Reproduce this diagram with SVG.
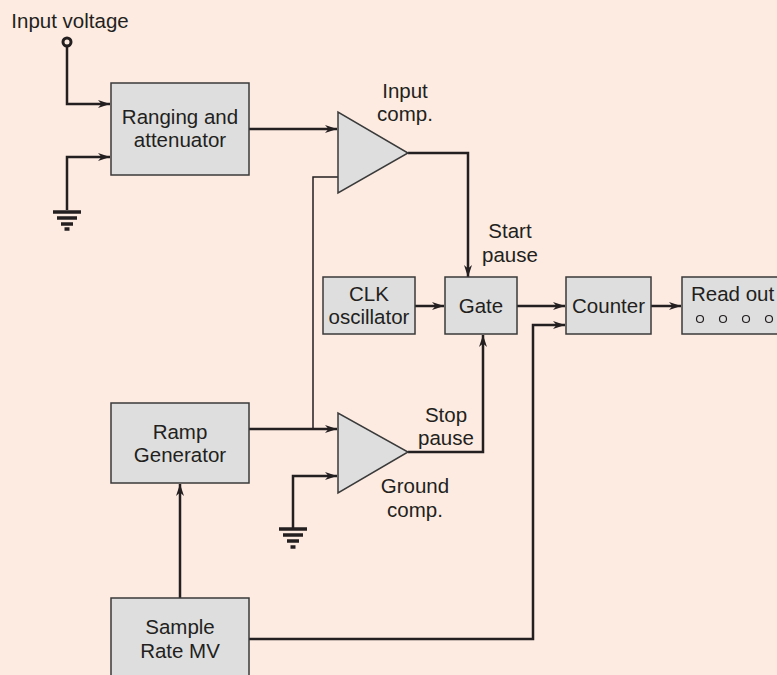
<svg xmlns="http://www.w3.org/2000/svg" width="777" height="675" viewBox="0 0 777 675">
<style>
.box{fill:#dedede;stroke:#3a3a3a;stroke-width:1.5}
.tri{fill:#dedede;stroke:#3a3a3a;stroke-width:1.5}
.t{font-family:"Liberation Sans",Arial,sans-serif;font-size:20.5px;fill:#231f20;text-anchor:middle}
.w{fill:none;stroke:#231f20;stroke-width:2.5}
.thin{fill:none;stroke:#231f20;stroke-width:1.5}
.gnd{stroke:#231f20;stroke-width:3.5}
</style>
<defs>
<marker id="arr" markerWidth="13" markerHeight="9" refX="12" refY="4.5" orient="auto" markerUnits="userSpaceOnUse">
<path d="M0,0.5 L12,4.5 L0,8.5 L3.5,4.5 z" fill="#231f20"/>
</marker>
</defs>
<rect width="777" height="675" fill="#fdebe1"/>

<g id="connectors">
<circle cx="67" cy="42" r="4" fill="none" stroke="#231f20" stroke-width="3"/>
<path class="w" d="M67,46 V104 H110" marker-end="url(#arr)"/>
<path class="w" d="M67,210 V157 H110" marker-end="url(#arr)"/>
<g class="gnd">
<line x1="53" y1="212" x2="81" y2="212"/>
<line x1="57" y1="218" x2="77" y2="218"/>
<line x1="61" y1="224" x2="73" y2="224"/>
<line x1="64.5" y1="229" x2="69.5" y2="229"/>
</g>
<path class="w" d="M249,129 H337" marker-end="url(#arr)"/>
<path class="thin" d="M338,177 H313 V429"/>
<path class="w" d="M408,153 H468 V277" marker-end="url(#arr)"/>
<path class="w" d="M249,429 H337" marker-end="url(#arr)"/>
<path class="w" d="M293,530 V476 H337" marker-end="url(#arr)"/>
<g class="gnd">
<line x1="279" y1="529" x2="307" y2="529"/>
<line x1="283" y1="535" x2="303" y2="535"/>
<line x1="287" y1="541" x2="299" y2="541"/>
<line x1="290.5" y1="547" x2="295.5" y2="547"/>
</g>
<path class="w" d="M408,452 H483 V335" marker-end="url(#arr)"/>
<path class="w" d="M415,306 H444" marker-end="url(#arr)"/>
<path class="w" d="M517,306 H565" marker-end="url(#arr)"/>
<path class="w" d="M651,306 H681" marker-end="url(#arr)"/>
<path class="w" d="M249,639 H533 V325 H565" marker-end="url(#arr)"/>
<path class="w" d="M180,598 V484" marker-end="url(#arr)"/>
</g>

<text class="t" x="70" y="28">Input voltage</text>

<g id="ranging">
<rect class="box" x="111" y="83" width="138" height="92"/>
<text class="t" x="180" y="124">Ranging and</text>
<text class="t" x="180" y="147">attenuator</text>
</g>

<g id="inputcomp">
<polygon class="tri" points="338,112 338,193 408,153"/>
<text class="t" x="405" y="98">Input</text>
<text class="t" x="405" y="121">comp.</text>
</g>

<text class="t" x="510" y="238">Start</text>
<text class="t" x="510" y="262">pause</text>

<g id="clk">
<rect class="box" x="323" y="277" width="92" height="57"/>
<text class="t" x="369" y="301">CLK</text>
<text class="t" x="369" y="324">oscillator</text>
</g>

<g id="gate">
<rect class="box" x="445" y="277" width="72" height="57"/>
<text class="t" x="481" y="313">Gate</text>
</g>

<g id="counter">
<rect class="box" x="566" y="277" width="85" height="57"/>
<text class="t" x="608.5" y="313">Counter</text>
</g>

<g id="readout">
<rect class="box" x="682" y="277" width="100" height="57"/>
<text class="t" x="691" y="301" style="text-anchor:start">Read out</text>
<g fill="none" stroke="#231f20" stroke-width="1.2">
<circle cx="700" cy="319" r="3.5"/>
<circle cx="723" cy="319" r="3.5"/>
<circle cx="746" cy="319" r="3.5"/>
<circle cx="769" cy="319" r="3.5"/>
</g>
</g>

<g id="ramp">
<rect class="box" x="111" y="403" width="138" height="80"/>
<text class="t" x="180" y="439">Ramp</text>
<text class="t" x="180" y="462">Generator</text>
</g>

<g id="groundcomp">
<polygon class="tri" points="338,413 338,493 408,452"/>
<text class="t" x="446" y="422">Stop</text>
<text class="t" x="446" y="445">pause</text>
<text class="t" x="415" y="493">Ground</text>
<text class="t" x="415" y="517">comp.</text>
</g>

<g id="sample">
<rect class="box" x="111" y="598" width="138" height="90"/>
<text class="t" x="180" y="634">Sample</text>
<text class="t" x="180" y="658">Rate MV</text>
</g>
</svg>
